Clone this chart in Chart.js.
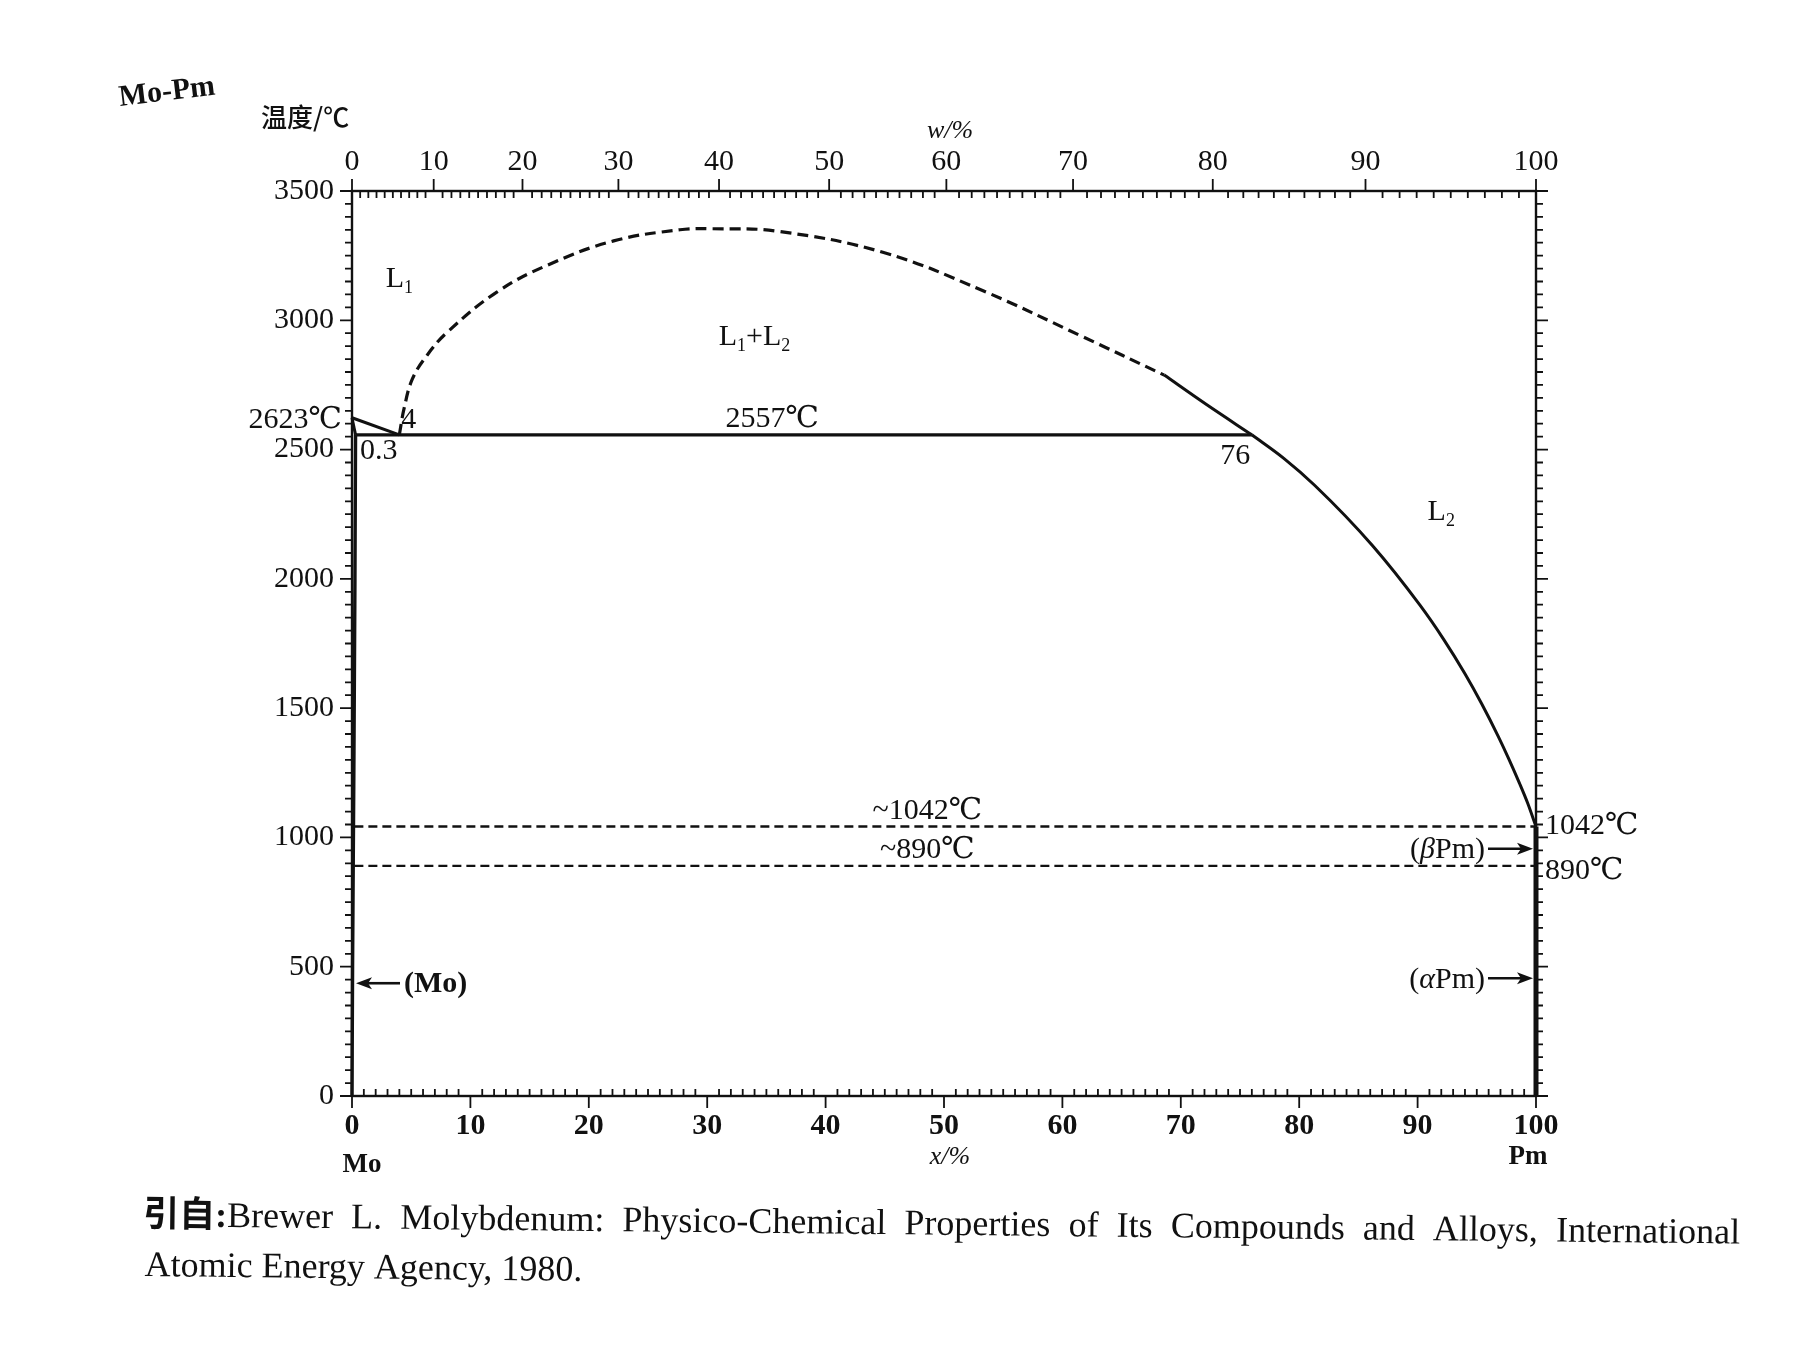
<!DOCTYPE html>
<html><head><meta charset="utf-8">
<script src="https://cdn.jsdelivr.net/npm/chart.js@4.4.1/dist/chart.umd.min.js"></script>
<style>html,body{margin:0;padding:0;background:#fff;}#wrap{width:1795px;height:1346px;position:relative;background:#fff;}</style>
</head><body><div id="wrap"><canvas id="c" width="1795" height="1346"></canvas></div>
<script>
// ---------- data (x = at.% Pm, T = °C) ----------
const domeAt = [4, 4.4, 5.1, 6.3, 8.0, 12.2, 16.5, 22.1, 27.7, 30.4, 36.0, 44.9, 53.3, 61.6, 68.6];
const domeT  = [2557, 2659, 2773, 2862, 2952, 3108, 3213, 3307, 3350, 3354, 3344, 3262, 3114, 2939, 2788];
const domeSolidAt = [68.6, 72.2, 76];
const domeSolidT  = [2788, 2673, 2557];
const liqL2At = [76, 78.7, 81.3, 86.2, 90.2, 92.2, 94.0, 95.4, 96.8, 97.7, 98.6, 99.3, 100];
const liqL2T  = [2557, 2466, 2362, 2128, 1898, 1766, 1633, 1518, 1392, 1304, 1210, 1132, 1042];
const liqMoAt = [0, 4];
const liqMoT  = [2623, 2557];
const solMoAt = [0, 0.3];
const solMoT  = [2623, 2557];
const monoAt = [0.3, 76];
const monoT  = [2557, 2557];
const solvusMoAt = [0.3, 0.25, 0.15, 0.05, 0];
const solvusMoT  = [2557, 2000, 1200, 500, 0];
const pmAt = [100, 100];
const pmT  = [0, 1042];
const betaAt = [0.2, 100];
const betaT  = [1042, 1042];
const alphaAt = [0.2, 100];
const alphaT  = [890, 890];
// ticks
const yTicks = [0, 500, 1000, 1500, 2000, 2500, 3000, 3500];
const xTicks = [0, 10, 20, 30, 40, 50, 60, 70, 80, 90, 100];
const wLabels = ['0','10','20','30','40','50','60','70','80','90','100'];
const wAtPos  = [0, 6.9, 14.4, 22.5, 31.0, 40.3, 50.2, 60.9, 72.7, 85.6, 100];

const SERIF = '"Liberation Serif", "DejaVu Serif", serif';
const CJK = '"Noto Sans CJK SC"';
function fnt(size, o) { o = o || {}; return (o.italic ? 'italic ' : '') + (o.bold ? 'bold ' : '') + size + 'px ' + SERIF + ', ' + CJK; }

function pts(xs, ys) { return xs.map((x, i) => ({x: x, y: ys[i]})); }
function ds(xs, ys, w, dash, mono) {
  return { data: pts(xs, ys), showLine: true, borderColor: '#111', borderWidth: w, borderDash: dash || [],
    pointRadius: 0, clip: false, cubicInterpolationMode: mono ? 'monotone' : 'default', tension: 0,
    xAxisID: 'x', yAxisID: 'y', fill: false };
}
function dsSmooth(xs, ys, w, dash) {
  const d = ds(xs, ys, w, dash, false); d.tension = 0.4; return d;
}

function drawRich(ctx, x, y, segs, align, base, size) {
  ctx.textBaseline = 'alphabetic';
  const widths = segs.map(s => { ctx.font = fnt(s.sub ? size * 0.6 : size, s); return ctx.measureText(s.t).width; });
  const total = widths.reduce((a, b) => a + b, 0);
  let x0 = align === 'center' ? x - total / 2 : (align === 'right' ? x - total : x);
  const by = base === 'middle' ? y + size * 0.34 : base === 'bottom' ? y - size * 0.2 : base === 'top' ? y + size * 0.72 : y;
  segs.forEach((s, i) => {
    ctx.font = fnt(s.sub ? size * 0.6 : size, s);
    ctx.fillText(s.t, x0, by + (s.sub ? size * 0.2 : 0));
    x0 += widths[i];
  });
  return total;
}
function arrow(ctx, x1, y, x2) {
  const dir = x2 > x1 ? 1 : -1;
  ctx.beginPath(); ctx.lineWidth = 2.6; ctx.moveTo(x1, y); ctx.lineTo(x2 - dir * 12, y); ctx.stroke();
  ctx.beginPath(); ctx.moveTo(x2, y); ctx.lineTo(x2 - dir * 16, y - 6); ctx.lineTo(x2 - dir * 12, y); ctx.lineTo(x2 - dir * 16, y + 6); ctx.closePath(); ctx.fill();
}

const notes = [
  {at: 4.0, t: 3170, segs: [{t: 'L'}, {t: '1', sub: true}], align: 'center', base: 'middle'},
  {at: 34, t: 2943, segs: [{t: 'L'}, {t: '1', sub: true}, {t: '+L'}, {t: '2', sub: true}], align: 'center', base: 'middle'},
  {at: 35.5, t: 2557, dy: -2, segs: [{t: '2557℃'}], align: 'center', base: 'bottom'},
  {at: 4, t: 2557, dx: 2, dy: -1, segs: [{t: '4'}], align: 'left', base: 'bottom'},
  {at: 0, t: 2557, dx: 8, dy: 3, segs: [{t: '0.3'}], align: 'left', base: 'top'},
  {at: 74.6, t: 2557, dy: 8, segs: [{t: '76'}], align: 'center', base: 'top'},
  {at: 92, t: 2268, segs: [{t: 'L'}, {t: '2', sub: true}], align: 'center', base: 'middle'},
  {at: 0, t: 2623, dx: -10, segs: [{t: '2623℃'}], align: 'right', base: 'middle'},
  {at: 48.6, t: 1042, dy: -2, segs: [{t: '~1042℃'}], align: 'center', base: 'bottom'},
  {at: 48.6, t: 890, dy: -2, segs: [{t: '~890℃'}], align: 'center', base: 'bottom'},
  {at: 100, t: 1042, dx: 9, dy: -3, segs: [{t: '1042℃'}], align: 'left', base: 'middle'},
  {at: 100, t: 890, dx: 9, dy: 3, segs: [{t: '890℃'}], align: 'left', base: 'middle'},
  {at: 100, t: 960, dx: -51, segs: [{t: '('}, {t: 'β', italic: true}, {t: 'Pm)'}], align: 'right', base: 'middle', arrow: [-48, -3]},
  {at: 100, t: 459, dx: -51, segs: [{t: '('}, {t: 'α', italic: true}, {t: 'Pm)'}], align: 'right', base: 'middle', arrow: [-48, -3]},
  {at: 0, t: 440, dx: 52, segs: [{t: '(Mo)', bold: true}], align: 'left', base: 'middle', arrow: [48, 4]}
];

const framePlugin = {
  id: 'frame',
  afterDatasetsDraw(chart) {
    const ctx = chart.ctx, a = chart.chartArea, X = chart.scales.x, Y = chart.scales.y, XT = chart.scales.xTop;
    ctx.save();
    ctx.strokeStyle = '#111'; ctx.fillStyle = '#111';
    ctx.lineWidth = 2.4;
    ctx.strokeRect(a.left, a.top, a.right - a.left, a.bottom - a.top);
    ctx.lineWidth = 1.8;
    ctx.beginPath();
    for (let v = 0; v <= 3500; v += 50) {
      const py = Y.getPixelForValue(v), L = v % 500 === 0 ? 12 : 7;
      ctx.moveTo(a.left, py); ctx.lineTo(a.left - L, py);
      ctx.moveTo(a.right, py); ctx.lineTo(a.right + L, py);
    }
    for (let v = 0; v <= 100; v += 1) {
      const px = X.getPixelForValue(v);
      if (v % 10 === 0) { ctx.moveTo(px, a.bottom); ctx.lineTo(px, a.bottom + 12); }
      else { ctx.moveTo(px, a.bottom); ctx.lineTo(px, a.bottom - 7); }
    }
    for (let i = 0; i < wAtPos.length; i++) {
      const px = XT.getPixelForValue(wAtPos[i]);
      ctx.moveTo(px, a.top); ctx.lineTo(px, a.top - 12);
      if (i < wAtPos.length - 1) {
        for (let k = 1; k < 10; k++) {
          const p = XT.getPixelForValue(wAtPos[i] + (wAtPos[i + 1] - wAtPos[i]) * k / 10);
          ctx.moveTo(p, a.top); ctx.lineTo(p, a.top + 7);
        }
      }
    }
    ctx.stroke();
    // annotations
    notes.forEach(n => {
      const px = X.getPixelForValue(n.at) + (n.dx || 0), py = Y.getPixelForValue(n.t) + (n.dy || 0);
      drawRich(ctx, px, py, n.segs, n.align, n.base, 30);
      if (n.arrow) {
        const bx = X.getPixelForValue(n.at), ay = Y.getPixelForValue(n.t) + 1;
        arrow(ctx, bx + n.arrow[0], ay, bx + n.arrow[1]);
      }
    });
    // titles
    ctx.save();
    ctx.translate(120, 106); ctx.rotate(-0.12);
    ctx.font = fnt(30, {bold: true}); ctx.textBaseline = 'alphabetic'; ctx.textAlign = 'left';
    ctx.fillText('Mo-Pm', 0, 0);
    ctx.restore();
    ctx.textAlign = 'left'; ctx.textBaseline = 'middle';
    ctx.font = '500 26px ' + CJK;
    ctx.fillText('温度/℃', 261, 117);
    ctx.textAlign = 'center';
    ctx.font = fnt(26, {italic: true});
    ctx.fillText('w/%', 950, 131);
    ctx.fillText('x/%', 950, 1157);
    ctx.font = fnt(27, {bold: true});
    ctx.fillText('Mo', X.getPixelForValue(0) + 10, 1165);
    ctx.fillText('Pm', X.getPixelForValue(100) - 8, 1157);
    // citation
    ctx.save();
    ctx.translate(143, 1226); ctx.rotate(0.011);
    const words = [
      [{t: '引自:', bold: true}, {t: 'Brewer'}], [{t: 'L.'}], [{t: 'Molybdenum:'}],
      [{t: 'Physico-Chemical'}], [{t: 'Properties'}], [{t: 'of'}], [{t: 'Its'}], [{t: 'Compounds'}],
      [{t: 'and'}], [{t: 'Alloys,'}], [{t: 'International'}]
    ];
    const size = 36, W = 1597;
    const ww = words.map(w => w.reduce((s, g) => { ctx.font = fnt(size, g); return s + ctx.measureText(g.t).width; }, 0));
    const gap = (W - ww.reduce((a, b) => a + b, 0)) / (words.length - 1);
    let cx = 0;
    ctx.textAlign = 'left'; ctx.textBaseline = 'alphabetic';
    words.forEach((w, i) => { let x0 = cx; w.forEach(g => { ctx.font = fnt(size, g); ctx.fillText(g.t, x0, 0); x0 += ctx.measureText(g.t).width; }); cx += ww[i] + gap; });
    ctx.font = fnt(size);
    ctx.fillText('Atomic Energy Agency, 1980.', 2, 50);
    ctx.restore();
    ctx.restore();
  }
};

const tickFont = {family: SERIF, size: 30};
new Chart(document.getElementById('c').getContext('2d'), {
  type: 'scatter',
  data: {
    datasets: [
      dsSmooth(domeAt, domeT, 3.2, [11, 6]),
      ds(domeSolidAt, domeSolidT, 3.0, [], true),
      ds(liqL2At, liqL2T, 3.0, [], true),
      ds(liqMoAt, liqMoT, 3.0),
      ds(solMoAt, solMoT, 3.0),
      ds(monoAt, monoT, 3.2),
      ds(solvusMoAt, solvusMoT, 3.4, [], true),
      ds(pmAt, pmT, 5),
      ds(betaAt, betaT, 2.6, [9, 5]),
      ds(alphaAt, alphaT, 2.4, [9, 5])
    ]
  },
  options: {
    responsive: false, animation: false, devicePixelRatio: 1,
    layout: {padding: {left: 252, right: 259, top: 131, bottom: 190}},
    plugins: {legend: {display: false}, tooltip: {enabled: false}, title: {display: false}},
    scales: {
      x: {
        type: 'linear', position: 'bottom', min: 0, max: 100,
        afterBuildTicks: s => { s.ticks = xTicks.map(v => ({value: v})); },
        afterFit: s => { s.height = 60; },
        grid: {display: false, drawTicks: false}, border: {display: false},
        ticks: {font: Object.assign({weight: 'bold'}, tickFont), color: '#111', padding: 12, autoSkip: false, maxRotation: 0, callback: v => String(v)}
      },
      xTop: {
        type: 'linear', position: 'top', min: 0, max: 100,
        afterBuildTicks: s => { s.ticks = wAtPos.map(v => ({value: v})); },
        afterFit: s => { s.height = 60; },
        grid: {display: false, drawTicks: false}, border: {display: false},
        ticks: {font: tickFont, color: '#111', padding: 11, autoSkip: false, maxRotation: 0, callback: (v, i) => wLabels[i]}
      },
      y: {
        type: 'linear', position: 'left', min: 0, max: 3500,
        afterBuildTicks: s => { s.ticks = yTicks.map(v => ({value: v})); },
        afterFit: s => { s.width = 100; },
        grid: {display: false, drawTicks: false}, border: {display: false},
        ticks: {font: tickFont, color: '#111', padding: 18, autoSkip: false, callback: v => String(v)}
      }
    }
  },
  plugins: [framePlugin]
});
</script></body></html>
